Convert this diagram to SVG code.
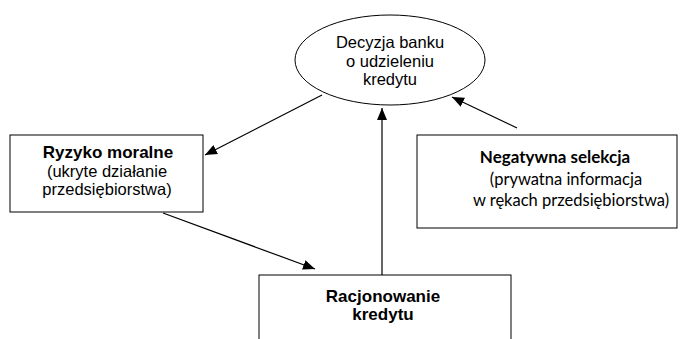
<svg xmlns="http://www.w3.org/2000/svg" width="680" height="339" viewBox="0 0 680 339">
<style>
.shape{fill:#fff;stroke:#000;stroke-width:1}
.t{font-family:"Liberation Sans",Arial,sans-serif;font-size:16.5px;fill:#000;text-anchor:middle}
.c{font-family:Lato,"Open Sans",sans-serif;font-size:16.5px;fill:#000;text-anchor:middle}
.b{font-weight:bold;font-size:17px}
.conn{stroke:#000;stroke-width:1.2;fill:none;marker-end:url(#ah)}
</style>
<defs>
<marker id="ah" viewBox="0 0 12 10" refX="12" refY="5" markerWidth="12" markerHeight="10" markerUnits="userSpaceOnUse" orient="auto">
<path d="M0,0 L12,5 L0,10 Z" fill="#000"/>
</marker>
</defs>
<rect width="680" height="339" fill="#fff"/>
<g id="connectors">
<line class="conn" x1="322" y1="95" x2="205" y2="155"/>
<line class="conn" x1="382" y1="275" x2="382" y2="108"/>
<line class="conn" x1="517" y1="128" x2="452" y2="97"/>
<line class="conn" x1="163" y1="213" x2="315" y2="269"/>
</g>
<g id="decyzja">
<ellipse class="shape" cx="390" cy="60" rx="95" ry="45"/>
<text class="t" x="390" y="48">Decyzja banku</text>
<text class="t" x="390" y="67">o udzieleniu</text>
<text class="t" x="390" y="85">kredytu</text>
</g>
<g id="ryzyko">
<rect class="shape" x="10" y="135" width="193" height="77"/>
<text class="t b" x="108" y="158">Ryzyko moralne</text>
<text class="t" x="107" y="177">(ukryte działanie</text>
<text class="t" x="107" y="195">przedsiębiorstwa)</text>
</g>
<g id="negatywna">
<rect class="shape" x="417" y="135" width="260" height="93"/>
<text class="c b" x="555" y="163">Negatywna selekcja</text>
<text class="c" x="566" y="185">(prywatna informacja</text>
<text class="c" x="571" y="206">w rękach przedsiębiorstwa)</text>
</g>
<g id="racjonowanie">
<rect class="shape" x="259" y="275" width="252" height="80"/>
<text class="t b" x="383" y="302">Racjonowanie</text>
<text class="t b" x="383" y="320">kredytu</text>
</g>
</svg>
